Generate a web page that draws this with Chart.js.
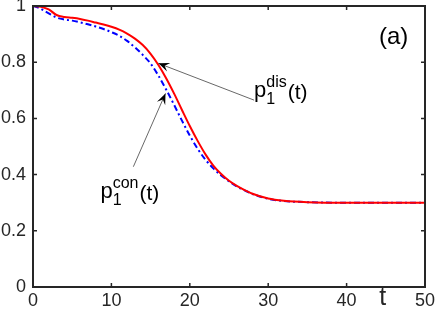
<!DOCTYPE html>
<html>
<head>
<meta charset="utf-8">
<script src="https://cdn.jsdelivr.net/npm/chart.js@4/dist/chart.umd.min.js"></script>
<style>
  html, body { margin: 0; padding: 0; background: #fff; }
  #chart { display: block; }
</style>
</head>
<body>
<canvas id="chart" width="436" height="317"></canvas>
<script>
// time samples for both curves
const tValues = [0, 1, 2, 3, 4, 5, 6, 7, 8, 9, 10, 11, 12, 13, 14, 15, 16, 17, 18, 19, 20,
  21, 22, 23, 24, 25, 26, 27, 28, 30, 32, 35, 40, 45, 50];

// p1^dis(t), red solid
const disValues = [1.0, 0.997, 0.988, 0.968, 0.961, 0.958, 0.954, 0.948, 0.941, 0.934, 0.926,
  0.916, 0.902, 0.884, 0.861, 0.830, 0.790, 0.742, 0.688, 0.630, 0.573,
  0.520, 0.472, 0.432, 0.402, 0.378, 0.360, 0.345, 0.332, 0.315, 0.307, 0.302, 0.300, 0.300, 0.300];

// p1^con(t), blue dash-dot
const conValues = [1.0, 0.990, 0.974, 0.959, 0.952, 0.948, 0.942, 0.935, 0.927, 0.918, 0.907,
  0.894, 0.876, 0.853, 0.826, 0.795, 0.752, 0.702, 0.648, 0.592, 0.539,
  0.492, 0.453, 0.422, 0.397, 0.376, 0.358, 0.344, 0.331, 0.314, 0.306, 0.302, 0.300, 0.300, 0.300];

const xTicks = [0, 10, 20, 30, 40, 50];
const yTicks = [0, 0.2, 0.4, 0.6, 0.8, 1];

const axisColor = '#262626';
const fontFamily = '"Liberation Sans", Arial, Helvetica, sans-serif';

// text labels with arrows, in data coordinates
const annotations = [
  { sup: 'dis', text: [28.2, 0.675], head: [16.0, 0.796], tail: [28.2, 0.665] },
  { sup: 'con', text: [8.6, 0.315], head: [16.9, 0.689], tail: [12.8, 0.428] }
];

const toPoints = (ys) => tValues.map((t, i) => ({ x: t, y: ys[i] }));

const drawLabel = (ctx, x, y, sup) => {
  // p, subscript 1, superscript, then (t)
  ctx.textBaseline = 'alphabetic';
  ctx.textAlign = 'left';
  ctx.fillStyle = '#000';
  ctx.font = '22px ' + fontFamily;
  ctx.fillText('p', x, y);
  const pw = ctx.measureText('p').width;
  ctx.font = '16px ' + fontFamily;
  ctx.fillText('1', x + pw, y + 7);
  ctx.fillText(sup, x + pw, y - 10);
  const sw = ctx.measureText(sup).width;
  ctx.font = '21px ' + fontFamily;
  ctx.fillText('(t)', x + pw + sw + 1, y + 2);
};

const axesPlugin = {
  id: 'axesBox',
  afterDatasetsDraw(chart) {
    const { ctx, chartArea: a, scales: { x, y } } = chart;
    ctx.save();
    ctx.strokeStyle = axisColor;
    ctx.lineWidth = 2;
    ctx.strokeRect(a.left, a.top, a.right - a.left, a.bottom - a.top);
    // inward ticks on all four sides
    const tl = 4;
    ctx.lineWidth = 1.5;
    ctx.beginPath();
    xTicks.forEach(v => {
      const px = x.getPixelForValue(v);
      ctx.moveTo(px, a.bottom); ctx.lineTo(px, a.bottom - tl);
      ctx.moveTo(px, a.top); ctx.lineTo(px, a.top + tl);
    });
    yTicks.forEach(v => {
      const py = y.getPixelForValue(v);
      ctx.moveTo(a.left, py); ctx.lineTo(a.left + tl, py);
      ctx.moveTo(a.right, py); ctx.lineTo(a.right - tl, py);
    });
    ctx.stroke();

    // axis label "t"
    ctx.fillStyle = axisColor;
    ctx.font = '25px ' + fontFamily;
    ctx.textAlign = 'center';
    ctx.textBaseline = 'middle';
    ctx.fillText('t', x.getPixelForValue(44.6), a.bottom + 11);

    // panel label
    ctx.fillStyle = '#000';
    ctx.font = '24px ' + fontFamily;
    ctx.fillText('(a)', x.getPixelForValue(46.0), y.getPixelForValue(0.89));

    // arrows
    annotations.forEach(an => {
      const hx = x.getPixelForValue(an.head[0]), hy = y.getPixelForValue(an.head[1]);
      const tx = x.getPixelForValue(an.tail[0]), ty = y.getPixelForValue(an.tail[1]);
      ctx.strokeStyle = '#000';
      ctx.lineWidth = 0.6;
      ctx.beginPath();
      ctx.moveTo(tx, ty); ctx.lineTo(hx, hy);
      ctx.stroke();
      const ang = Math.atan2(hy - ty, hx - tx);
      const len = 11, wid = 4.5;
      ctx.fillStyle = '#000';
      ctx.beginPath();
      ctx.moveTo(hx, hy);
      ctx.lineTo(hx - len * Math.cos(ang) + wid * Math.sin(ang), hy - len * Math.sin(ang) - wid * Math.cos(ang));
      ctx.lineTo(hx - 0.6 * len * Math.cos(ang), hy - 0.6 * len * Math.sin(ang));
      ctx.lineTo(hx - len * Math.cos(ang) - wid * Math.sin(ang), hy - len * Math.sin(ang) + wid * Math.cos(ang));
      ctx.closePath();
      ctx.fill();
      drawLabel(ctx, x.getPixelForValue(an.text[0]), y.getPixelForValue(an.text[1]), an.sup);
    });
    ctx.restore();
  }
};

const tickLabel = v => String(Number(v.toFixed(1)));

new Chart(document.getElementById('chart'), {
  type: 'line',
  data: {
    datasets: [
      {
        label: 'dis',
        data: toPoints(disValues),
        borderColor: '#ff0000',
        borderWidth: 2,
        pointRadius: 0,
        cubicInterpolationMode: 'monotone',
        fill: false
      },
      {
        label: 'con',
        data: toPoints(conValues),
        borderColor: '#0000ff',
        borderWidth: 2,
        borderDash: [6, 3, 2, 3],
        pointRadius: 0,
        cubicInterpolationMode: 'monotone',
        fill: false
      }
    ]
  },
  options: {
    responsive: false,
    animation: false,
    devicePixelRatio: 1,
    layout: { padding: { left: 0, right: 11, top: 6, bottom: 0 } },
    plugins: { legend: { display: false }, tooltip: { enabled: false } },
    scales: {
      x: {
        type: 'linear',
        min: 0, max: 50,
        afterBuildTicks: s => { s.ticks = xTicks.map(v => ({ value: v })); },
        afterFit: s => { s.height = 30; s.paddingLeft = 0; s.paddingRight = 0; },
        grid: { display: false, drawTicks: false },
        border: { display: false },
        ticks: { color: axisColor, padding: 3, callback: tickLabel, font: { size: 18, family: fontFamily } }
      },
      y: {
        min: 0, max: 1,
        afterBuildTicks: s => { s.ticks = yTicks.map(v => ({ value: v })); },
        afterFit: s => { s.width = 33; s.paddingTop = 0; s.paddingBottom = 0; },
        grid: { display: false, drawTicks: false },
        border: { display: false },
        ticks: { color: axisColor, padding: 7, callback: tickLabel, font: { size: 18, family: fontFamily } }
      }
    }
  },
  plugins: [axesPlugin]
});
</script>
</body>
</html>
